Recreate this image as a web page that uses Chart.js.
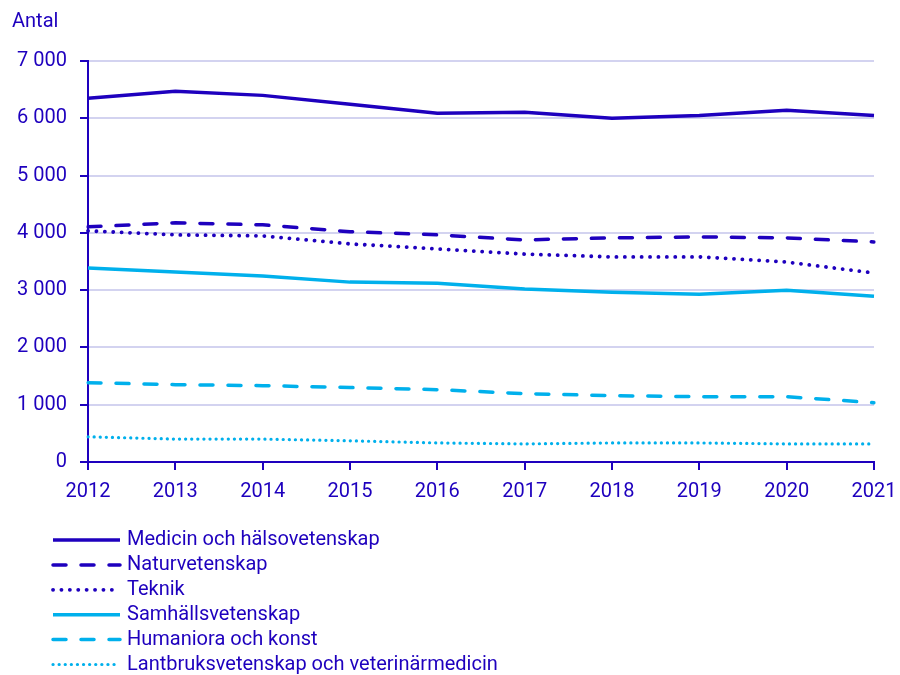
<!DOCTYPE html>
<html>
<head>
<meta charset="utf-8">
<script src="https://cdn.jsdelivr.net/npm/chart.js@4/dist/chart.umd.min.js"></script>
<style>
  html, body { margin: 0; padding: 0; background: #fff; }
  #wrap { width: 900px; height: 675px; position: relative; }
</style>
</head>
<body>
<div id="wrap"><canvas id="graf"></canvas></div>
<script>
// data
const ar = ["2012", "2013", "2014", "2015", "2016", "2017", "2018", "2019", "2020", "2021"];
const medicin = [6350, 6470, 6400, 6245, 6090, 6105, 6000, 6050, 6140, 6050];
const natur = [4105, 4175, 4140, 4020, 3965, 3877, 3912, 3930, 3912, 3842];
const teknik = [4035, 3965, 3947, 3807, 3720, 3630, 3580, 3580, 3490, 3300];
const samhalle = [3385, 3315, 3245, 3140, 3120, 3020, 2965, 2930, 3000, 2895];
const humaniora = [1385, 1350, 1333, 1300, 1263, 1193, 1158, 1140, 1140, 1035];
const lantbruk = [440, 400, 400, 370, 333, 316, 333, 333, 316, 316];
const yTicks = [0, 1000, 2000, 3000, 4000, 5000, 6000, 7000];

const MORK = "#1e00be";
const LJUS = "#00b0ec";
const FONT = "Roboto";
const FSIZE = 20;

const serie = (label, data, color, dash, width, cap) => ({
    label: label,
    data: data,
    borderColor: color,
    backgroundColor: color,
    borderWidth: width,
    borderDash: dash,
    borderCapStyle: cap,
    pointRadius: 0,
    tension: 0,
    fill: false
});

/* text "Antal" + legend drawn on the canvas */
const extra = {
    id: "extra",
    afterDraw(chart) {
        const ctx = chart.ctx;
        ctx.save();
        ctx.font = FSIZE + "px " + FONT;
        ctx.fillStyle = MORK;
        ctx.textBaseline = "middle";
        ctx.textAlign = "left";
        ctx.fillText("Antal", 12, 22);

        chart.data.datasets.forEach((ds, i) => {
            const y = 540 + i * 24.9;
            ctx.beginPath();
            ctx.strokeStyle = ds.borderColor;
            ctx.lineWidth = ds.borderWidth;
            ctx.lineCap = ds.borderCapStyle;
            ctx.setLineDash(ds.borderDash);
            ctx.moveTo(53, y);
            ctx.lineTo(120, y);
            ctx.stroke();
            ctx.setLineDash([]);
            ctx.fillStyle = MORK;
            ctx.fillText(ds.label, 127, y);
        });
        ctx.restore();
    }
};

new Chart(document.getElementById("graf"), {
    type: "line",
    data: {
        labels: ar,
        datasets: [
            serie("Medicin och hälsovetenskap", medicin, MORK, [], 3.5, "butt"),
            serie("Naturvetenskap", natur, MORK, [13, 15], 3.5, "round"),
            serie("Teknik", teknik, MORK, [0.1, 8.3], 3.8, "round"),
            serie("Samhällsvetenskap", samhalle, LJUS, [], 3.5, "butt"),
            serie("Humaniora och konst", humaniora, LJUS, [13, 15], 3.5, "round"),
            serie("Lantbruksvetenskap och veterinärmedicin", lantbruk, LJUS, [0.1, 6], 3.2, "round")
        ]
    },
    options: {
        responsive: true,
        maintainAspectRatio: false,
        animation: false,
        layout: { padding: { top: 61, left: 12, right: 26, bottom: 161 } },
        plugins: {
            legend: { display: false },
            tooltip: { enabled: false }
        },
        scales: {
            x: {
                offset: false,
                afterFit(scale) { scale.paddingRight = 0; scale.paddingLeft = 0; },
                grid: {
                    drawOnChartArea: false,
                    drawTicks: true,
                    tickLength: 8,
                    tickColor: MORK,
                    lineWidth: 2
                },
                border: { color: MORK, width: 2 },
                ticks: {
                    color: MORK,
                    font: { family: FONT, size: FSIZE },
                    padding: 10,
                    maxRotation: 0
                }
            },
            y: {
                min: 0,
                max: 7000,
                afterBuildTicks(scale) {
                    scale.ticks = yTicks.map(v => ({ value: v }));
                },
                afterFit(scale) { scale.width = 76; },
                grid: {
                    color: "#d3d3f0",
                    lineWidth: 2,
                    drawTicks: true,
                    tickLength: 8,
                    tickColor: MORK
                },
                border: { color: MORK, width: 2 },
                ticks: {
                    color: MORK,
                    font: { family: FONT, size: FSIZE },
                    padding: 13,
                    callback: v => String(v).replace(/\B(?=(\d{3})+(?!\d))/g, " ")
                }
            }
        }
    },
    plugins: [extra]
});
</script>
</body>
</html>
